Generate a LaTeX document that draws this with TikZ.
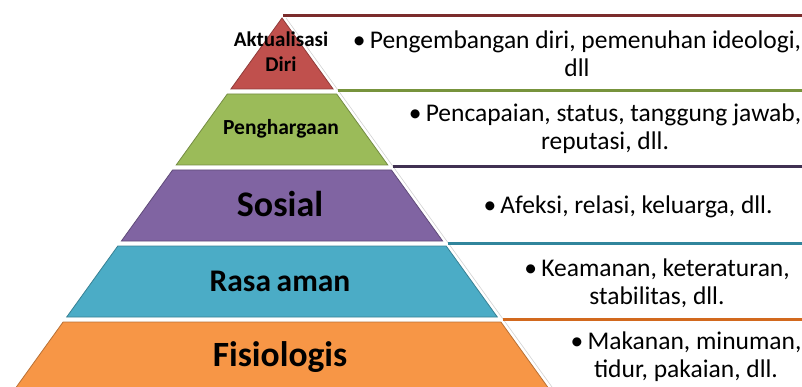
\documentclass[tikz,border=0pt]{standalone}
\usepackage{fontspec}
\setmainfont{Carlito}
\usepackage{tikz}
\usetikzlibrary{positioning,calc}

\definecolor{lvlred}{HTML}{C0504D}
\definecolor{lvlgreen}{HTML}{9BBB59}
\definecolor{lvlpurple}{HTML}{8064A2}
\definecolor{lvlteal}{HTML}{4BACC6}
\definecolor{lvlorange}{HTML}{F79646}
\definecolor{linered}{HTML}{7B2C2C}
\definecolor{linegreen}{HTML}{77933C}
\definecolor{linepurple}{HTML}{403152}
\definecolor{lineteal}{HTML}{31859C}
\definecolor{lineorange}{HTML}{D2691E}

\begin{document}
\begin{tikzpicture}[x=1pt, y=-1pt,
  layer/.style={line width=0.8pt, line join=miter},
  sepline/.style={line width=3pt},
  lvl/.style={font=\bfseries, align=center, text=black, inner sep=0pt},
  note/.style={align=center, font=\fontsize{25.5}{28}\selectfont, inner sep=0pt}
]
\clip (0,0) rectangle (802,387);

% pyramid layers
\filldraw[layer, fill=lvlred, draw=lvlred!75!black] (282,18) -- (333.1,89) -- (230.9,89) -- cycle;
\filldraw[layer, fill=lvlgreen, draw=lvlgreen!75!black] (227.3,94) -- (336.7,94) -- (387.8,165) -- (176.2,165) -- cycle;
\filldraw[layer, fill=lvlpurple, draw=lvlpurple!75!black] (172.6,170) -- (391.4,170) -- (442.6,241) -- (121.4,241) -- cycle;
\filldraw[layer, fill=lvlteal, draw=lvlteal!75!black] (117.8,246) -- (446.2,246) -- (497.3,317) -- (66.7,317) -- cycle;
\filldraw[layer, fill=lvlorange, draw=lvlorange!75!black] (63.1,322) -- (500.9,322) -- (553.4,395) -- (10.6,395) -- cycle;

% faint edge of the text column
\draw[gray!35, line width=0.6pt] (286,18) -- (552,387);

% separators
\draw[sepline, linered] (283,16) -- (802,16);
\draw[sepline, linegreen] (338,91) -- (802,91);
\draw[sepline, linepurple] (393,166.5) -- (802,166.5);
\draw[sepline, lineteal] (448,243) -- (802,243);
\draw[sepline, lineorange] (503,319.5) -- (802,319.5);

% level labels
\node[lvl, font=\bfseries\fontsize{21}{25}\selectfont] (aktual) at (281,52) {Aktualisasi\\Diri};
\node[lvl, font=\bfseries\fontsize{21.5}{25}\selectfont] (harga) at (281,129) {Penghargaan};
\node[lvl, font=\bfseries\fontsize{36}{40}\selectfont] (sosial) at (280,204) {Sosial};
\node[lvl, font=\bfseries\fontsize{31.5}{36}\selectfont] (aman) at (280,281) {Rasa\hspace{0.18em}aman};
\node[lvl, font=\bfseries\fontsize{35.5}{40}\selectfont] (fisio) at (280,357) {Fisiologis};

% descriptions
\node[note] (dAktual) at (577,54) {\textbullet\,Pengembangan diri, pemenuhan ideologi,\\dll};
\node[note] (dHarga) at (605,129) {\textbullet\,Pencapaian, status, tanggung jawab,\\reputasi, dll.};
\node[note] (dSosial) at (628,207) {\textbullet\,Afeksi, relasi, keluarga, dll.};
\node[note] (dAman) at (657,283) {\textbullet\,Keamanan, keteraturan,\\stabilitas, dll.};
\node[note] (dFisio) at (686,357) {\textbullet\,Makanan, minuman,\\tidur, pakaian, dll.};
\end{tikzpicture}
\end{document}
